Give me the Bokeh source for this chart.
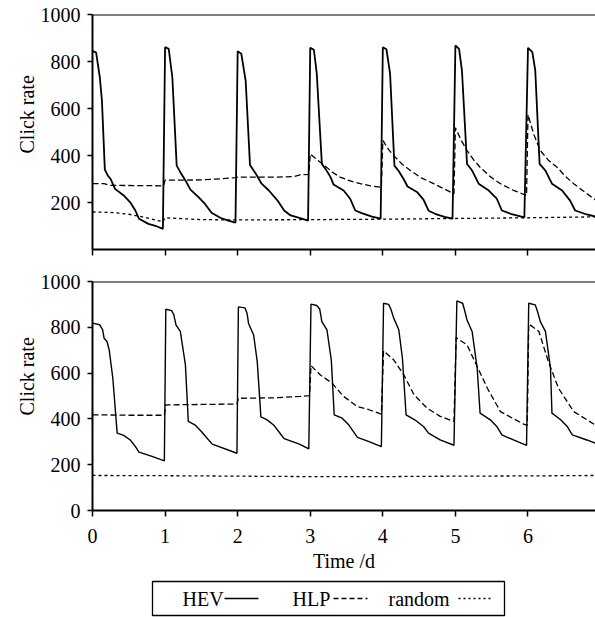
from bokeh.plotting import figure
from bokeh.models import Range1d, FixedTicker, Span, Title
from bokeh.layouts import column
from bokeh.embed import file_html
from bokeh.resources import INLINE

# ---------------- data ----------------
days = [0, 1, 2, 3, 4, 5, 6, 7]
y_ticks_top = [200, 400, 600, 800, 1000]
y_ticks_bottom = [0, 200, 400, 600, 800, 1000]

top_hev_t = [0, 0.05, 0.10, 0.13, 0.17, 0.21, 0.25, 0.31, 0.43, 0.52, 0.59, 0.64, 0.77, 0.89, 0.97,
             1.0, 1.05, 1.10, 1.16, 1.21, 1.28, 1.35, 1.46, 1.55, 1.64, 1.76, 1.87, 1.97,
             2.0, 2.05, 2.11, 2.17, 2.25, 2.33, 2.43, 2.55, 2.64, 2.73, 2.85, 2.97,
             3.0, 3.05, 3.09, 3.16, 3.21, 3.28, 3.32, 3.46, 3.55, 3.62, 3.71, 3.85, 3.97,
             4.0, 4.05, 4.10, 4.16, 4.22, 4.29, 4.34, 4.47, 4.56, 4.63, 4.72, 4.85, 4.96,
             5.0, 5.05, 5.09, 5.16, 5.23, 5.32, 5.46, 5.57, 5.64, 5.76, 5.95,
             6.0, 6.06, 6.10, 6.16, 6.24, 6.33, 6.47, 6.58, 6.65, 6.81, 6.93]
top_hev_v = [845, 838, 735, 634, 340, 315, 300, 258, 230, 201, 166, 131, 109, 98, 88,
             861, 854, 733, 357, 329, 294, 255, 223, 194, 156, 135, 123, 114,
             844, 833, 719, 360, 322, 280, 251, 208, 166, 145, 135, 123,
             858, 850, 748, 364, 343, 308, 277, 251, 216, 166, 155, 140, 131,
             861, 852, 748, 357, 333, 298, 268, 245, 212, 165, 152, 139, 131,
             868, 854, 762, 364, 336, 280, 251, 216, 166, 152, 137,
             858, 840, 762, 364, 336, 280, 251, 208, 166, 149, 140]

top_hlp_t = [0, 0.16, 0.25, 0.6, 0.98,
             1.0, 1.5, 1.76, 1.98,
             2.0, 2.5, 2.77, 2.86, 2.98,
             3.0, 3.1, 3.2, 3.3, 3.41, 3.55, 3.69, 3.83, 3.98,
             4.0, 4.08, 4.17, 4.27, 4.38, 4.53, 4.70, 4.85, 4.98,
             5.0, 5.08, 5.16, 5.25, 5.34, 5.48, 5.62, 5.80, 5.98,
             6.0, 6.08, 6.17, 6.28, 6.40, 6.52, 6.63, 6.80, 6.93]
top_hlp_v = [280, 280, 273, 272, 271,
             295, 296, 301, 306,
             308, 308, 310, 318, 320,
             407, 380, 357, 330, 308, 292, 280, 271, 265,
             464, 425, 393, 362, 336, 305, 280, 257, 237,
             518, 465, 421, 382, 350, 310, 280, 252, 230,
             574, 490, 421, 380, 350, 310, 280, 240, 211]

top_rnd_t = [0, 0.3, 0.5, 0.7, 0.97, 1.0, 1.5, 2.0, 3.0, 4.0, 5.0, 6.0, 6.93]
top_rnd_v = [160, 157, 150, 138, 118, 135, 127, 126, 127, 129, 132, 135, 139]

bot_hev_t = [0, 0.10, 0.14, 0.16, 0.20, 0.23, 0.28, 0.34, 0.43, 0.52, 0.59, 0.64, 0.82, 0.99,
             1.01, 1.09, 1.12, 1.15, 1.21, 1.28, 1.32, 1.41, 1.50, 1.57, 1.65, 1.99,
             2.01, 2.10, 2.13, 2.15, 2.22, 2.27, 2.32, 2.40, 2.50, 2.57, 2.64, 2.85, 2.98,
             3.01, 3.09, 3.13, 3.16, 3.23, 3.29, 3.33, 3.44, 3.53, 3.65, 3.81, 3.98,
             4.01, 4.08, 4.11, 4.15, 4.22, 4.27, 4.32, 4.44, 4.56, 4.63, 4.79, 4.98,
             5.02, 5.10, 5.13, 5.16, 5.23, 5.30, 5.34, 5.48, 5.57, 5.64, 5.80, 5.98,
             6.01, 6.10, 6.13, 6.17, 6.24, 6.31, 6.33, 6.45, 6.54, 6.61, 6.81, 6.93]
bot_hev_v = [818, 811, 789, 752, 738, 701, 578, 338, 328, 308, 280, 255, 236, 217,
             879, 873, 855, 811, 782, 636, 389, 374, 345, 319, 290, 250,
             889, 885, 860, 817, 766, 649, 409, 397, 372, 343, 314, 290, 269,
             901, 895, 880, 825, 789, 658, 418, 403, 374, 319, 301, 279,
             905, 900, 880, 840, 789, 665, 418, 396, 367, 338, 308, 285,
             915, 905, 870, 832, 782, 621, 425, 396, 367, 330, 308, 284,
             905, 898, 870, 825, 782, 621, 425, 396, 367, 330, 308, 294]

bot_hlp_t = [0, 0.5, 0.99, 1.01, 1.5, 1.99, 2.01, 2.5, 2.86, 2.99,
             3.01, 3.14, 3.30, 3.46, 3.65, 3.81, 3.98,
             4.01, 4.15, 4.29, 4.43, 4.61, 4.79, 4.98,
             5.01, 5.16, 5.30, 5.44, 5.62, 5.94, 5.99,
             6.01, 6.15, 6.28, 6.42, 6.63, 6.93]
bot_hlp_v = [418, 416, 416, 461, 463, 465, 490, 492, 498, 502,
             633, 592, 556, 498, 454, 440, 421,
             697, 658, 592, 505, 447, 411, 389,
             755, 723, 629, 534, 432, 377, 372,
             815, 782, 651, 534, 432, 373]

bot_rnd_t = [0, 1, 2, 3, 4, 5, 6, 6.93]
bot_rnd_v = [153, 152, 150, 148, 148, 150, 151, 153]

series_names = ["HEV", "HLP", "random"]

# ---------------- styling ----------------
FONT = "Liberation Serif"
W = 595
LEFT = 92
X_END = 6.93


def style_axes(p, yticks, show_x_labels):
    p.xgrid.visible = False
    p.ygrid.visible = False
    p.outline_line_color = None
    p.background_fill_color = "white"
    p.border_fill_color = "white"
    for ax in (p.xaxis[0], p.yaxis[0]):
        ax.axis_line_color = "black"
        ax.axis_line_width = 2
        ax.major_tick_line_color = "black"
        ax.major_tick_line_width = 1.5
        ax.major_tick_in = 0
        ax.minor_tick_line_color = None
        ax.major_label_text_font = FONT
        ax.major_label_text_font_style = "normal"
        ax.major_label_text_font_size = "20px"
        ax.major_label_text_color = "black"
    p.xaxis[0].ticker = FixedTicker(ticks=days)
    p.xaxis[0].major_tick_out = 6
    p.yaxis[0].ticker = FixedTicker(ticks=yticks)
    p.yaxis[0].major_tick_out = 5
    p.yaxis[0].major_label_standoff = 7
    if show_x_labels:
        p.xaxis[0].major_label_standoff = 12
    else:
        p.xaxis[0].major_label_text_color = None
        p.xaxis[0].major_label_text_font_size = "1px"
        p.xaxis[0].major_label_standoff = 0
    # top border of the frame
    p.add_layout(Span(location=1000, dimension="width", line_color="black", line_width=2))


def add_series(p, ht, hv, lt, lv, rt, rv, hev_w):
    p.line(ht, hv, line_color="black", line_width=hev_w)
    p.line(lt, lv, line_color="black", line_width=1.3, line_dash="6 3")
    p.line(rt, rv, line_color="black", line_width=1.3, line_dash="3 3")


def add_ylabel(p, offset):
    p.add_layout(Title(text="Click rate", align="left", offset=offset,
                       text_font=FONT, text_font_size="20px", text_font_style="normal",
                       text_color="black", standoff=0), "left")


# top panel
p1 = figure(width=W, height=269, output_backend="svg", toolbar_location=None,
            x_range=Range1d(0, X_END), y_range=Range1d(0, 1000),
            min_border_left=LEFT, min_border_right=0, min_border_top=14, min_border_bottom=20)
style_axes(p1, y_ticks_top, False)
add_series(p1, top_hev_t, top_hev_v, top_hlp_t, top_hlp_v, top_rnd_t, top_rnd_v, 1.8)
add_ylabel(p1, 96)

# bottom panel
p2 = figure(width=W, height=310, output_backend="svg", toolbar_location=None,
            x_range=Range1d(0, X_END), y_range=Range1d(0, 1000),
            min_border_left=LEFT, min_border_right=0, min_border_top=12, min_border_bottom=69)
style_axes(p2, y_ticks_bottom, True)
add_series(p2, bot_hev_t, bot_hev_v, bot_hlp_t, bot_hlp_v, bot_rnd_t, bot_rnd_v, 1.4)
add_ylabel(p2, 95)
p2.xaxis[0].axis_label = "Time /d"
p2.xaxis[0].axis_label_text_font = FONT
p2.xaxis[0].axis_label_text_font_size = "20px"
p2.xaxis[0].axis_label_text_font_style = "normal"
p2.xaxis[0].axis_label_text_color = "black"
p2.xaxis[0].axis_label_standoff = 4

# legend strip (label first, then line sample, as in the original); x in page pixels
LH = 38
p3 = figure(width=W, height=LH, output_backend="svg", toolbar_location=None,
            x_range=Range1d(LEFT, W), y_range=Range1d(0, LH),
            min_border_left=LEFT, min_border_right=0, min_border_top=0, min_border_bottom=0)
p3.axis.visible = False
p3.xgrid.visible = False
p3.ygrid.visible = False
p3.outline_line_color = None
p3.quad(left=[152], right=[504], bottom=[2], top=[36], fill_color=None,
        line_color="black", line_width=1.3)
leg_text_x = [182, 292, 388]
leg_line_x0 = [224, 333, 458]
leg_line_x1 = [258, 367, 492]
leg_dash = ["solid", "5 3", "2 3"]
for name, tx, x0, x1, dash in zip(series_names, leg_text_x, leg_line_x0, leg_line_x1, leg_dash):
    p3.text(x=[tx], y=[19], text=[name], text_font_size="20px",
            text_baseline="middle", text_align="left", text_color="black",
            text_font={"value": FONT})
    p3.segment(x0=[x0], y0=[19], x1=[x1], y1=[19], line_color="black",
               line_width=1.3, line_dash=dash)

layout = column(p1, p2, p3, spacing=0)
open("out.html", "w").write(file_html(layout, INLINE))
